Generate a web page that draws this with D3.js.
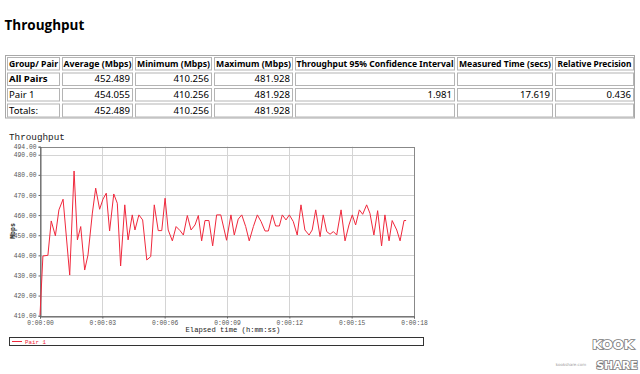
<!DOCTYPE html>
<html><head><meta charset="utf-8">
<script src="https://cdn.jsdelivr.net/npm/d3@7/dist/d3.min.js"></script>
<style>
html,body{margin:0;padding:0;background:#fff;}
svg{display:block;}
</style></head>
<body><svg id="c" width="640" height="374"></svg>
<script>
// ---------- data ----------
const tableHeaders = ["Group/ Pair","Average (Mbps)","Minimum (Mbps)","Maximum (Mbps)","Throughput 95% Confidence Interval","Measured Time (secs)","Relative Precision"];
const rowLabels = ["All Pairs","Pair 1","Totals:"];
const avgCol = ["452.489","454.055","452.489"];
const minCol = ["410.256","410.256","410.256"];
const maxCol = ["481.928","481.928","481.928"];
const ciCol = ["","1.981",""];
const timeCol = ["","17.619",""];
const precCol = ["","0.436",""];

const seriesName = "Pair 1";
const times = [0.00,0.14,0.38,0.54,0.74,0.91,1.11,1.43,1.64,1.80,1.96,2.15,2.31,2.52,2.68,2.87,3.03,3.19,3.35,3.55,3.72,3.88,4.08,4.24,4.44,4.57,4.76,4.94,5.14,5.33,5.50,5.69,5.86,6.02,6.17,6.37,6.55,6.74,6.90,7.09,7.27,7.46,7.62,7.78,7.94,8.13,8.31,8.50,8.70,8.98,9.19,9.35,9.54,9.71,9.90,10.07,10.27,10.46,10.64,10.83,10.99,11.18,11.34,11.52,11.66,11.84,12.00,12.19,12.38,12.56,12.75,12.95,13.10,13.27,13.48,13.63,13.80,13.96,14.12,14.28,14.49,14.68,14.87,15.03,15.19,15.37,15.53,15.72,15.88,16.07,16.25,16.44,16.60,16.80,16.95,17.17,17.33,17.52,17.62];
const mbps = [410.256,439.7,440.0,457.1,449.7,462.6,467.9,430.2,481.928,447.7,454.3,432.7,440.2,461.0,473.4,462.9,467.9,470.9,452.1,470.5,465.9,434.7,465.1,447.7,460.1,452.6,460.1,457.6,437.7,439.4,465.1,452.3,452.3,468.4,452.6,447.2,454.3,452.3,450.1,459.8,452.6,455.1,459.8,447.2,457.3,457.3,444.7,460.1,460.1,447.5,460.1,450.1,458.0,460.1,454.3,447.2,454.3,460.1,456.8,452.1,452.1,460.1,454.6,454.6,460.1,457.6,460.1,456.8,450.1,465.1,452.6,450.1,452.6,462.6,449.3,460.1,451.8,450.5,451.8,450.1,462.6,447.2,455.1,460.1,455.1,462.6,460.4,465.1,460.9,450.1,462.2,444.7,460.1,447.2,457.3,452.6,447.2,457.3,457.3];
const yTicks = [410,420,430,440,450,460,470,480,490,494];
const xTicks = [0,3,6,9,12,15,18];

// ---------- drawing ----------
const svg = d3.select("#c");

// page title
svg.append("text").attr("x",4.5).attr("y",30)
  .style("font-family","'Open Sans','Noto Sans',sans-serif").style("font-weight","bold").style("font-size","13.5px")
  .attr("fill","#000").text("Throughput");

// table
const colX = [5,60,133,212,293,455,553,634];
const rowY = [55,70.5,86,101.5,117.5];
const headerW = [49,68,73,75,157,92,74];
const rows = rowLabels.map((l,i)=>[l,avgCol[i],minCol[i],maxCol[i],ciCol[i],timeCol[i],precCol[i]]);
const tg = svg.append("g").style("font-family","'Noto Sans','Open Sans',sans-serif");
tg.append("rect").attr("x",colX[0]+0.5).attr("y",rowY[0]+0.5)
  .attr("width",colX[7]-colX[0]).attr("height",rowY[4]-rowY[0])
  .attr("fill","none").attr("stroke","#a8a8a8").attr("stroke-width",1);
const allRows = [tableHeaders].concat(rows);
allRows.forEach((r,ri)=>{
  r.forEach((v,ci)=>{
    const x0=colX[ci], x1=colX[ci+1], y0=rowY[ri], y1=rowY[ri+1];
    tg.append("rect").attr("x",x0+2.5).attr("y",y0+2.5).attr("width",x1-x0-3).attr("height",y1-y0-3)
      .attr("fill","none").attr("stroke","#b4b4b4").attr("stroke-width",1);
    const t = tg.append("text").attr("y",(y0+y1)/2+4).style("font-size","9.6px").attr("fill","#000").text(v);
    if(ri===0){
      t.attr("x",(x0+x1)/2+1).attr("text-anchor","middle").style("font-weight","bold").style("font-size","9.4px")
       .attr("textLength",headerW[ci]).attr("lengthAdjust","spacingAndGlyphs");
    }
    else if(ci===0){ t.attr("x",x0+4).style("font-weight", ri===1?"bold":"normal"); }
    else { t.attr("x",x1-3).attr("text-anchor","end"); }
  });
});

// chart
const x = d3.scaleLinear().domain([0,18]).range([40,414]);
const y = d3.scaleLinear().domain([410,494]).range([315.7,146.7]);
const mono = "'Liberation Mono','DejaVu Sans Mono',monospace";

svg.append("text").attr("x",9).attr("y",139.5).style("font-family",mono).style("font-size","9.3px").attr("fill","#222").text("Throughput");

// gridlines
const grid = svg.append("g");
grid.selectAll("line.h").data(yTicks.filter(d=>d>410&&d<494)).join("line")
  .attr("x1",x(0)).attr("x2",x(18)).attr("y1",d=>Math.round(y(d))+0.5).attr("y2",d=>Math.round(y(d))+0.5)
  .attr("stroke","#d4d4d4").attr("stroke-width",1);
grid.selectAll("line.v").data(xTicks.filter(d=>d>0&&d<18)).join("line")
  .attr("y1",y(494)).attr("y2",y(410)).attr("x1",d=>Math.round(x(d))+0.5).attr("x2",d=>Math.round(x(d))+0.5)
  .attr("stroke","#d4d4d4").attr("stroke-width",1);

// frame
svg.append("rect").attr("x",Math.round(x(0))+0.5).attr("y",Math.round(y(494))+0.5)
  .attr("width",Math.round(x(18))-Math.round(x(0))).attr("height",Math.round(y(410))-Math.round(y(494)))
  .attr("fill","none").attr("stroke","#888").attr("stroke-width",1);

// axes
const yAxis = d3.axisLeft(y).tickValues(yTicks).tickFormat(d3.format(".2f")).tickSize(2).tickPadding(2);
const ya = svg.append("g").attr("transform",`translate(${Math.round(x(0))+0.5},0)`).call(yAxis);
ya.select(".domain").attr("stroke","#666");
ya.selectAll(".tick line").attr("stroke","#666");
ya.selectAll("text").style("font-family",mono).style("font-size","6.3px").attr("fill","#555");

const fmt = s=>{const h=Math.floor(s/3600),m=Math.floor(s%3600/60),ss=Math.round(s%60);return `${h}:${String(m).padStart(2,"0")}:${String(ss).padStart(2,"0")}`;};
const xAxis = d3.axisBottom(x).tickValues(xTicks).tickFormat(fmt).tickSize(2).tickPadding(2);
const xa = svg.append("g").attr("transform",`translate(0,${Math.round(y(410))+0.5})`).call(xAxis);
xa.select(".domain").attr("stroke","#666");
xa.selectAll(".tick line").attr("stroke","#666");
xa.selectAll("text").style("font-family",mono).style("font-size","6.3px").attr("fill","#555");

svg.append("text").attr("x",233).attr("y",332).attr("text-anchor","middle")
  .style("font-family",mono).style("font-size","7.2px").attr("fill","#222").text("Elapsed time (h:mm:ss)");
svg.append("text").attr("transform","translate(15,231) rotate(-90)").attr("text-anchor","middle")
  .style("font-family",mono).style("font-size","6.5px").style("font-weight","bold").attr("fill","#222").text("Mbps");

// series
const pts = times.map((t,i)=>[t,mbps[i]]);
svg.append("path").datum(pts)
  .attr("d",d3.line().x(d=>x(d[0])).y(d=>y(d[1])))
  .attr("fill","none").attr("stroke","#f0283c").attr("stroke-width",1).attr("stroke-linejoin","round");

// legend
const lg = svg.append("g");
lg.append("rect").attr("x",9.5).attr("y",337.5).attr("width",414).attr("height",8).attr("fill","#fff").attr("stroke","#333");
lg.append("line").attr("x1",12).attr("x2",22).attr("y1",341.5).attr("y2",341.5).attr("stroke","#f0283c");
lg.append("text").attr("x",25).attr("y",344).style("font-family",mono).style("font-size","5.8px").attr("fill","#f0283c").text(seriesName);

// watermark
const wm = svg.append("g").style("font-family","'DejaVu Sans',sans-serif").style("font-weight","bold");
wm.append("text").attr("x",613).attr("y",349).attr("text-anchor","middle").style("font-size","13px")
  .attr("fill","#fff").attr("stroke","#777").attr("stroke-width",1.6).attr("paint-order","stroke").text("KOOK");
wm.append("text").attr("x",617).attr("y",369).attr("text-anchor","middle").style("font-size","11px")
  .attr("fill","#fff").attr("stroke","#777").attr("stroke-width",1.6).attr("paint-order","stroke").text("SHARE");
wm.append("text").attr("x",571).attr("y",366).attr("text-anchor","middle").style("font-size","4px").style("font-weight","normal")
  .attr("fill","#999").text("kookshare.com");
</script></body></html>
